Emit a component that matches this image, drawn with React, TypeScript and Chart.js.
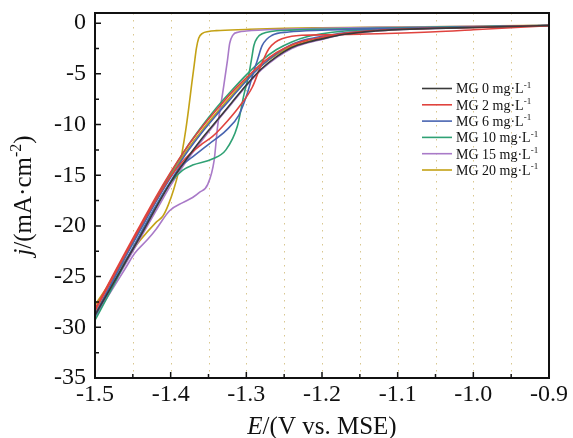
import React, { useEffect, useRef } from 'react';
import { Chart, registerables } from 'chart.js';

Chart.register(...registerables);

// ---------- data ----------
const concentrations = [0, 2, 6, 10, 15, 20];
const colors = ['#3a3a3a', '#e0433e', '#4864b0', '#2fa174', '#a97ac8', '#c4a216'];

const xTickValues = [-1.5, -1.4, -1.3, -1.2, -1.1, -1.0, -0.9];
const xMinorValues = [-1.45, -1.4, -1.35, -1.3, -1.25, -1.2, -1.15, -1.1, -1.05, -1.0, -0.95];
const yTickValues = [0, -5, -10, -15, -20, -25, -30, -35];
const yMinorValues = [-2.5, -7.5, -12.5, -17.5, -22.5, -27.5, -32.5];

// common potential grid for the smooth (return) branches
const gridE = [-1.5, -1.48, -1.46, -1.44, -1.42, -1.4, -1.38, -1.36, -1.34, -1.32, -1.3, -1.28, -1.26, -1.24, -1.22, -1.2, -1.17, -1.13, -1.1, -1.05, -1.0, -0.95, -0.9];

// MG 0
const mg0J = [-28.8, -26.2, -23.6, -21.0, -18.3, -15.7, -13.5, -11.5, -9.7, -7.9, -6.1, -4.5, -3.3, -2.4, -1.9, -1.55, -1.1, -0.78, -0.64, -0.52, -0.43, -0.33, -0.23];

// MG 2
const mg2ScanE = [-1.5, -1.48, -1.46, -1.44, -1.42, -1.4, -1.38, -1.36, -1.345, -1.3315, -1.31, -1.292, -1.283, -1.275, -1.27, -1.262, -1.253, -1.24, -1.227, -1.19, -1.15, -1.126, -1.05, -1.0, -0.95, -0.9];
const mg2ScanJ = [-28.4, -25.6, -22.8, -20.1, -17.5, -15.1, -13.3, -12.0, -11.2, -10.2, -8.3, -6.3, -4.6, -3.2, -2.5, -1.9, -1.55, -1.3, -1.2, -1.15, -1.08, -1.04, -0.85, -0.65, -0.45, -0.25];
const mg2ReturnJ = [-28.2, -25.4, -22.6, -19.9, -17.2, -14.7, -12.4, -10.4, -8.6, -6.9, -5.4, -4.0, -2.9, -2.15, -1.7, -1.4, -1.0, -0.72, -0.6, -0.5, -0.42, -0.32, -0.23];

// MG 6
const mg6ScanE = [-1.5, -1.48, -1.46, -1.44, -1.42, -1.4, -1.388, -1.371, -1.349, -1.327, -1.31, -1.299, -1.29, -1.2856, -1.279, -1.266, -1.244, -1.2, -1.1, -1.0, -0.9];
const mg6ScanJ = [-28.9, -26.2, -23.5, -20.8, -18.1, -15.6, -14.2, -13.2, -11.9, -10.6, -9.1, -7.0, -4.7, -3.7, -2.2, -1.2, -0.88, -0.7, -0.5, -0.38, -0.23];
const mg6ReturnJ = [-28.7, -25.9, -23.1, -20.4, -17.7, -15.2, -12.9, -10.9, -9.1, -7.4, -5.7, -4.2, -3.0, -2.1, -1.6, -1.3, -0.95, -0.7, -0.58, -0.48, -0.4, -0.31, -0.23];

// MG 10
const mg10ScanE = [-1.5, -1.48, -1.46, -1.44, -1.42, -1.4, -1.384, -1.371, -1.345, -1.327, -1.312, -1.303, -1.297, -1.293, -1.29, -1.285, -1.279, -1.265, -1.25, -1.2, -1.1, -1.0, -0.9];
const mg10ScanJ = [-29.3, -26.5, -23.6, -20.8, -18.1, -15.7, -14.5, -14.0, -13.4, -12.5, -10.2, -7.0, -5.2, -3.5, -2.2, -1.4, -1.05, -0.8, -0.72, -0.6, -0.45, -0.35, -0.23];
const mg10ReturnJ = [-28.9, -26.0, -23.0, -20.2, -17.4, -14.8, -12.4, -10.3, -8.4, -6.7, -5.1, -3.7, -2.6, -1.85, -1.35, -1.05, -0.78, -0.6, -0.52, -0.45, -0.38, -0.3, -0.23];

// MG 15
const mg15ScanE = [-1.5, -1.48, -1.46, -1.4475, -1.43, -1.419, -1.4015, -1.384, -1.371, -1.362, -1.351, -1.3425, -1.338, -1.3315, -1.325, -1.322, -1.318, -1.31, -1.3, -1.25, -1.2, -1.1, -1.0, -0.9];
const mg15ScanJ = [-28.9, -26.6, -24.2, -22.7, -21.3, -20.3, -18.5, -17.7, -17.2, -16.7, -15.9, -13.5, -10.2, -7.0, -3.7, -2.0, -1.2, -0.88, -0.78, -0.6, -0.5, -0.4, -0.32, -0.22];
const mg15ReturnJ = [-29.0, -26.4, -23.8, -21.2, -18.6, -16.0, -13.7, -11.7, -9.8, -8.0, -6.2, -4.6, -3.4, -2.5, -1.95, -1.6, -1.1, -0.78, -0.64, -0.52, -0.43, -0.33, -0.23];

// MG 20
const mg20ScanE = [-1.5, -1.48, -1.46, -1.44, -1.42, -1.41, -1.403, -1.396, -1.39, -1.385, -1.38, -1.376, -1.372, -1.369, -1.366, -1.363, -1.358, -1.35, -1.34, -1.3, -1.25, -1.2, -1.1, -1.0, -0.9];
const mg20ScanJ = [-27.8, -25.6, -23.4, -21.4, -19.7, -19.0, -17.9, -16.4, -14.8, -12.8, -10.5, -8.3, -5.9, -4.2, -2.5, -1.5, -1.0, -0.82, -0.74, -0.62, -0.5, -0.45, -0.38, -0.3, -0.22];
const mg20ReturnJ = [-28.3, -25.5, -22.8, -20.1, -17.5, -15.0, -12.7, -10.7, -8.9, -7.2, -5.6, -4.2, -3.1, -2.3, -1.85, -1.5, -1.05, -0.75, -0.62, -0.5, -0.42, -0.32, -0.23];

// ---------- helpers ----------
const FAM = '"Liberation Serif", "Times New Roman", "DejaVu Serif", serif';

type Seg = { t: string; italic?: boolean; sup?: boolean };

function segFont(s: Seg, size: number) {
  const sz = s.sup ? Math.round(size * 0.62) : size;
  return `${s.italic ? 'italic ' : ''}${sz}px ${FAM}`;
}

function drawRich(ctx: CanvasRenderingContext2D, segs: Seg[], size: number, x: number, y: number, center: boolean) {
  let total = 0;
  const widths: number[] = [];
  for (const s of segs) {
    ctx.font = segFont(s, size);
    const w = ctx.measureText(s.t).width;
    widths.push(w);
    total += w;
  }
  let cx = center ? x - total / 2 : x;
  ctx.textBaseline = 'alphabetic';
  ctx.textAlign = 'left';
  segs.forEach((s, i) => {
    ctx.font = segFont(s, size);
    ctx.fillText(s.t, cx, s.sup ? y - size * 0.4 : y);
    cx += widths[i];
  });
}

const zip = (xs: number[], ys: number[]) => xs.map((x, i) => ({ x, y: ys[i] }));

const decorPlugin = {
  id: 'decor',
  beforeDatasetsDraw(chart: any) {
    const { ctx, chartArea: a, scales } = chart;
    ctx.save();
    ctx.strokeStyle = '#d9c78f';
    ctx.lineWidth = 1;
    ctx.setLineDash([1.5, 5.5]);
    for (const v of xMinorValues) {
      const px = Math.round(scales.x.getPixelForValue(v)) + 0.5;
      ctx.beginPath();
      ctx.moveTo(px, a.top);
      ctx.lineTo(px, a.bottom);
      ctx.stroke();
    }
    ctx.restore();
  },
  afterDraw(chart: any) {
    const { ctx, chartArea: a, scales } = chart;
    ctx.save();
    // ticks (inward)
    ctx.strokeStyle = '#111';
    ctx.lineWidth = 1.5;
    ctx.beginPath();
    for (const v of xTickValues) {
      const px = scales.x.getPixelForValue(v);
      ctx.moveTo(px, a.bottom);
      ctx.lineTo(px, a.bottom - 6);
    }
    for (const v of xMinorValues) {
      if (xTickValues.some((t) => Math.abs(t - v) < 1e-6)) continue;
      const px = scales.x.getPixelForValue(v);
      ctx.moveTo(px, a.bottom);
      ctx.lineTo(px, a.bottom - 4);
    }
    for (const v of yTickValues) {
      const py = scales.y.getPixelForValue(v);
      ctx.moveTo(a.left, py);
      ctx.lineTo(a.left + 6, py);
    }
    for (const v of yMinorValues) {
      const py = scales.y.getPixelForValue(v);
      ctx.moveTo(a.left, py);
      ctx.lineTo(a.left + 4, py);
    }
    ctx.stroke();
    // frame
    ctx.lineWidth = 2;
    ctx.strokeStyle = '#111';
    ctx.strokeRect(a.left, a.top, a.right - a.left, a.bottom - a.top);

    // axis titles
    ctx.fillStyle = '#111';
    drawRich(
      ctx,
      [{ t: 'E', italic: true }, { t: '/(V vs. MSE)' }],
      25,
      (a.left + a.right) / 2,
      434,
      true
    );
    ctx.save();
    ctx.translate(24, (a.top + a.bottom) / 2);
    ctx.rotate(-Math.PI / 2);
    drawRich(
      ctx,
      [{ t: 'j', italic: true }, { t: '/(mA·cm' }, { t: '-2', sup: true }, { t: ')' }],
      25,
      0,
      7,
      true
    );
    ctx.restore();

    // legend
    const lx = 422;
    const ly = 88.5;
    const step = 16.3;
    concentrations.forEach((c, i) => {
      const y = ly + i * step;
      ctx.strokeStyle = colors[i];
      ctx.lineWidth = 1.6;
      ctx.beginPath();
      ctx.moveTo(lx, y);
      ctx.lineTo(lx + 30, y);
      ctx.stroke();
      ctx.fillStyle = '#111';
      drawRich(ctx, [{ t: `MG ${c} mg·L` }, { t: '-1', sup: true }], 14, lx + 34, y + 4.8, false);
    });
    ctx.restore();
  },
};

export default function App() {
  const ref = useRef<HTMLCanvasElement | null>(null);

  useEffect(() => {
    if (!ref.current) return;
    const branches: { name: string; color: string; data: { x: number; y: number }[] }[] = [
      { name: 'MG 0', color: colors[0], data: zip(gridE, mg0J) },
      { name: 'MG 2', color: colors[1], data: zip(mg2ScanE, mg2ScanJ) },
      { name: 'MG 2 return', color: colors[1], data: zip(gridE, mg2ReturnJ) },
      { name: 'MG 6', color: colors[2], data: zip(mg6ScanE, mg6ScanJ) },
      { name: 'MG 6 return', color: colors[2], data: zip(gridE, mg6ReturnJ) },
      { name: 'MG 10', color: colors[3], data: zip(mg10ScanE, mg10ScanJ) },
      { name: 'MG 10 return', color: colors[3], data: zip(gridE, mg10ReturnJ) },
      { name: 'MG 15', color: colors[4], data: zip(mg15ScanE, mg15ScanJ) },
      { name: 'MG 15 return', color: colors[4], data: zip(gridE, mg15ReturnJ) },
      { name: 'MG 20', color: colors[5], data: zip(mg20ScanE, mg20ScanJ) },
      { name: 'MG 20 return', color: colors[5], data: zip(gridE, mg20ReturnJ) },
    ];

    const chart = new Chart(ref.current, {
      type: 'line',
      data: {
        datasets: branches.map((b) => ({
          label: b.name,
          data: b.data,
          borderColor: b.color,
          backgroundColor: b.color,
          borderWidth: 1.6,
          pointRadius: 0,
          fill: false,
          cubicInterpolationMode: 'monotone' as const,
        })),
      },
      options: {
        responsive: false,
        animation: false,
        events: [],
        layout: { padding: { left: 0, top: 13, right: 21, bottom: 0 } },
        plugins: {
          legend: { display: false },
          tooltip: { enabled: false },
          title: { display: false },
        },
        scales: {
          x: {
            type: 'linear',
            min: -1.5,
            max: -0.9,
            afterBuildTicks: (s: any) => {
              s.ticks = xTickValues.map((v) => ({ value: v }));
            },
            afterFit: (s: any) => {
              s.height = 60;
            },
            ticks: {
              callback: (v: any) => Number(v).toFixed(1),
              font: { family: FAM, size: 24, lineHeight: 1 },
              color: '#111',
              padding: 5,
              maxRotation: 0,
              autoSkip: false,
            },
            grid: { display: false, drawTicks: false },
            border: { display: false },
          },
          y: {
            type: 'linear',
            min: -35,
            max: 1,
            afterBuildTicks: (s: any) => {
              s.ticks = yTickValues.map((v) => ({ value: v }));
            },
            afterFit: (s: any) => {
              s.width = 95;
              s.paddingTop = 0;
              s.paddingBottom = 0;
            },
            ticks: {
              callback: (v: any) => String(v),
              font: { family: FAM, size: 24, lineHeight: 0.4 },
              color: '#111',
              padding: 9,
              autoSkip: false,
            },
            grid: { display: false, drawTicks: false },
            border: { display: false },
          },
        },
      },
      plugins: [decorPlugin],
    } as any);

    return () => chart.destroy();
  }, []);

  return (
    <div style={{ position: 'absolute', left: 0, top: 0, width: 573, height: 438, background: '#fff' }}>
      <canvas ref={ref} width={573} height={438} style={{ display: 'block' }} />
    </div>
  );
}
